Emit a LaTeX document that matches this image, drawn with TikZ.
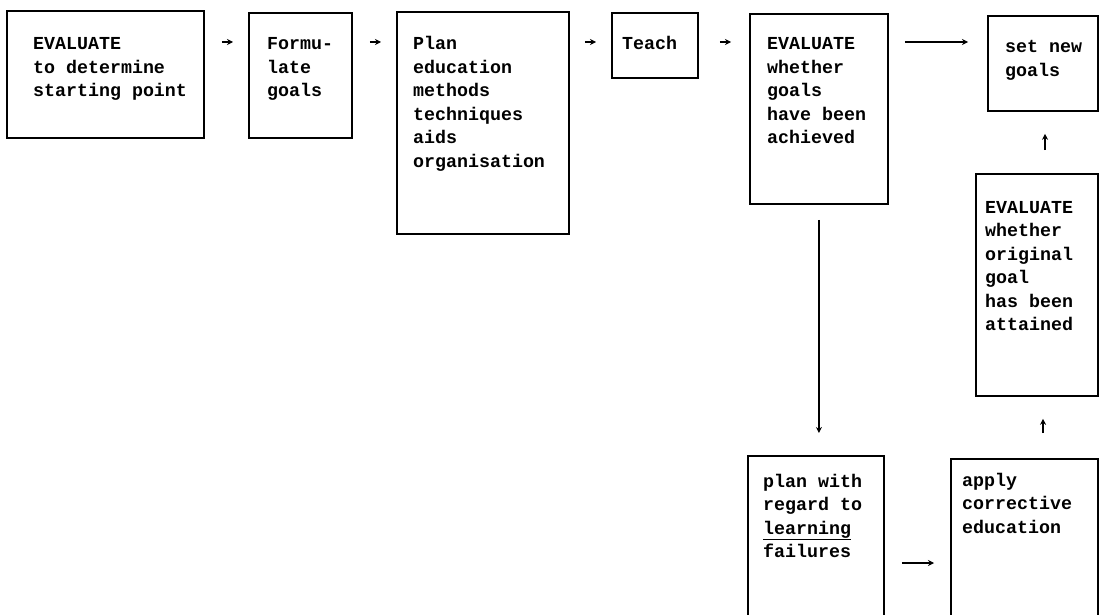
\documentclass[tikz,border=0pt]{standalone}
\usepackage{fontspec}
\setmainfont{Liberation Mono}
\usetikzlibrary{arrows.meta,calc}
\tikzset{
  box/.style={draw, line width=1.8pt, rectangle, inner sep=0pt, anchor=north west},
  txt/.style={anchor=base west, inner sep=0pt, font=\bfseries\fontsize{18.3}{23.5}\selectfont},
  arr/.style={line width=1.6pt, -{Stealth[length=6pt,width=6pt]}},
}
\newcommand{\boxlines}[1]{\parbox[t]{220pt}{\raggedright #1}}
\begin{document}
\begin{tikzpicture}[x=1pt,y=-1pt]
\useasboundingbox (0,0) rectangle (1099,615);
\fill[white] (0,0) rectangle (1099,615);
% boxes
\node[box, minimum width=197pt, minimum height=127pt] (b1) at (6,10) {};
\node[box, minimum width=103pt, minimum height=125pt] (b2) at (248,12) {};
\node[box, minimum width=172pt, minimum height=222pt] (b3) at (396,11) {};
\node[box, minimum width=86pt,  minimum height=65pt]  (b4) at (611,12) {};
\node[box, minimum width=138pt, minimum height=190pt] (b5) at (749,13) {};
\node[box, minimum width=110pt, minimum height=95pt]  (b6) at (987,15) {};
\node[box, minimum width=122pt, minimum height=222pt] (b7) at (975,173) {};
\node[box, minimum width=136pt, minimum height=170pt] (b8) at (747,455) {};
\node[box, minimum width=147pt, minimum height=170pt] (b9) at (950,458) {};
% texts
\node[txt] (t1) at ([shift={(27,40)}]b1.north west) {\boxlines{EVALUATE\\to determine\\starting point}};
\node[txt] (t2) at ([shift={(19,38)}]b2.north west) {\boxlines{Formu-\\late\\goals}};
\node[txt] (t3) at ([shift={(17,39)}]b3.north west) {\boxlines{Plan\\education\\methods\\techniques\\aids\\organisation}};
\node[txt] (t4) at ([shift={(11,38)}]b4.north west) {\boxlines{Teach}};
\node[txt] (t5) at ([shift={(18,37)}]b5.north west) {\boxlines{EVALUATE\\whether\\goals\\have been\\achieved}};
\node[txt] (t6) at ([shift={(18,38)}]b6.north west) {\boxlines{set new\\goals}};
\node[txt] (t7) at ([shift={(10,40)}]b7.north west) {\boxlines{EVALUATE\\whether\\original\\goal\\has been\\attained}};
\node[txt] (t8) at ([shift={(16,32)}]b8.north west) {\boxlines{plan with\\regard to\\\underline{learning}\\failures}};
\node[txt] (t9) at ([shift={(12,28)}]b9.north west) {\boxlines{apply\\corrective\\education}};
% arrows
\draw[arr] ([shift={(17,32)}]b1.north east) -- ([shift={(-15,30)}]b2.north west);
\draw[arr] ([shift={(17,30)}]b2.north east) -- ([shift={(-15,31)}]b3.north west);
\draw[arr] ([shift={(15,31)}]b3.north east) -- ([shift={(-15,30)}]b4.north west);
\draw[arr] ([shift={(21,30)}]b4.north east) -- ([shift={(-18,29)}]b5.north west);
\draw[arr] ([shift={(16,29)}]b5.north east) -- ([shift={(-19,27)}]b6.north west);
\draw[arr] ([shift={(0,15)}]b5.south) -- ([shift={(3,-22)}]b8.north);
\draw[arr] ([shift={(17,108)}]b8.north east) -- ([shift={(-16,105)}]b9.north west);
\draw[arr] ([shift={(93,-25)}]b9.north west) -- ([shift={(68,22)}]b7.south west);
\draw[arr] ([shift={(70,-23)}]b7.north west) -- ([shift={(58,22)}]b6.south west);
\end{tikzpicture}
\end{document}
